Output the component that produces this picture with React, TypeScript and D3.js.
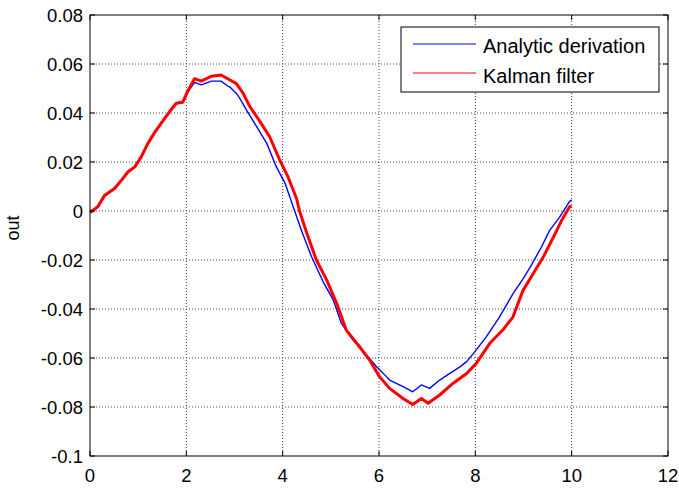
import React from "react";
import * as d3 from "d3";

const xTicks = [0, 2, 4, 6, 8, 10, 12];
const yTicks = [-0.1, -0.08, -0.06, -0.04, -0.02, 0, 0.02, 0.04, 0.06, 0.08];
const yTickLabels = ["-0.1", "-0.08", "-0.06", "-0.04", "-0.02", "0", "0.02", "0.04", "0.06", "0.08"];

const analyticT = [0, 0.17, 0.3, 0.51, 0.65, 0.79, 0.93, 1.06, 1.2, 1.34, 1.52, 1.65, 1.79, 1.93, 2.03, 2.17, 2.31, 2.52, 2.72, 2.86, 2.9, 3.04, 3.11, 3.25, 3.46, 3.67, 3.87, 4.05, 4.25, 4.39, 4.6, 4.84, 5.05, 5.22, 5.46, 5.74, 5.95, 6.15, 6.22, 6.5, 6.7, 6.88, 7.05, 7.26, 7.47, 7.68, 7.82, 8.02, 8.23, 8.5, 8.78, 8.99, 9.16, 9.37, 9.54, 9.75, 9.96, 10];
const analyticY = [0, 0.0015, 0.006, 0.009, 0.0122, 0.0158, 0.0178, 0.0218, 0.0272, 0.0318, 0.0368, 0.0402, 0.0437, 0.0442, 0.0485, 0.0525, 0.0515, 0.053, 0.053, 0.051, 0.0507, 0.048, 0.046, 0.0412, 0.0344, 0.0276, 0.018, 0.0113, 0.0, -0.008, -0.0187, -0.0289, -0.0363, -0.0459, -0.0527, -0.0588, -0.0636, -0.0675, -0.069, -0.0717, -0.0738, -0.071, -0.0724, -0.069, -0.0663, -0.0636, -0.0615, -0.0567, -0.0513, -0.0433, -0.0338, -0.0277, -0.0222, -0.0148, -0.008, -0.0025, 0.004, 0.0045];

const kalmanT = [0, 0.03, 0.17, 0.3, 0.51, 0.65, 0.79, 0.93, 1.06, 1.2, 1.34, 1.52, 1.65, 1.79, 1.93, 2.03, 2.17, 2.31, 2.52, 2.72, 2.86, 3.04, 3.18, 3.32, 3.53, 3.73, 3.94, 4.11, 4.29, 4.35, 4.5, 4.7, 4.91, 5.12, 5.32, 5.6, 5.81, 6.01, 6.22, 6.5, 6.7, 6.88, 7.02, 7.26, 7.54, 7.82, 8.02, 8.3, 8.57, 8.78, 8.99, 9.2, 9.41, 9.62, 9.79, 9.96, 10];
const kalmanY = [0, -0.0003, 0.002, 0.0063, 0.0092, 0.0125, 0.016, 0.018, 0.022, 0.0275, 0.032, 0.037, 0.0405, 0.044, 0.0445, 0.049, 0.054, 0.053, 0.055, 0.0555, 0.054, 0.052, 0.048, 0.0426, 0.0365, 0.0303, 0.0208, 0.014, 0.005, 0.0, -0.009, -0.02, -0.028, -0.0377, -0.0486, -0.0555, -0.061, -0.0676, -0.0724, -0.0765, -0.079, -0.0765, -0.0785, -0.0751, -0.0703, -0.0663, -0.0622, -0.054, -0.0486, -0.0433, -0.0324, -0.0256, -0.0188, -0.0107, -0.0039, 0.0018, 0.002];

const seriesNames = ["Analytic derivation", "Kalman filter"];
const seriesColors = ["#0000ff", "#ff0000"];

const W = 679, H = 488;
const L = 90, R = 668, T = 15, B = 456;

export default function App() {
  const x = d3.scaleLinear().domain([0, 12]).range([L, R]);
  const y = d3.scaleLinear().domain([-0.1, 0.08]).range([B, T]);
  const line = d3.line<[number, number]>().x(d => x(d[0])).y(d => y(d[1]));
  const blue = line(analyticT.map((t, i) => [t, analyticY[i]]) as [number, number][]) || "";
  const red = line(kalmanT.map((t, i) => [t, kalmanY[i]]) as [number, number][]) || "";
  const font = "Arial, 'Liberation Sans', Helvetica, sans-serif";
  const tl = 5;
  return (
    <svg width={W} height={H} style={{ position: "absolute", left: 0, top: 0, background: "#fff" }} fontFamily={font}>
      <rect x={0} y={0} width={W} height={H} fill="#fff" />
      <rect x={L} y={T} width={R - L} height={B - T} fill="#fff" />
      {/* grid */}
      {xTicks.slice(1, -1).map(t => (
        <line key={"gx" + t} x1={x(t)} x2={x(t)} y1={T} y2={B} stroke="#444" strokeDasharray="1,2" strokeWidth={1} />
      ))}
      {yTicks.slice(1, -1).map(t => (
        <line key={"gy" + t} x1={L} x2={R} y1={y(t)} y2={y(t)} stroke="#444" strokeDasharray="1,2" strokeWidth={1} />
      ))}
      {/* data */}
      <path d={blue} fill="none" stroke={seriesColors[0]} strokeWidth={1.4} strokeLinejoin="round" />
      <path d={red} fill="none" stroke={seriesColors[1]} strokeWidth={3} strokeLinejoin="round" />
      {/* box */}
      <rect x={L} y={T} width={R - L} height={B - T} fill="none" stroke="#000" strokeWidth={1} />
      {/* ticks */}
      {xTicks.map(t => (
        <g key={"tx" + t}>
          <line x1={x(t)} x2={x(t)} y1={B} y2={B - tl} stroke="#000" />
          <line x1={x(t)} x2={x(t)} y1={T} y2={T + tl} stroke="#000" />
          <text x={x(t)} y={482} textAnchor="middle" fontSize={18.5}>{t}</text>
        </g>
      ))}
      {yTicks.map((t, i) => (
        <g key={"ty" + t}>
          <line x1={L} x2={L + tl} y1={y(t)} y2={y(t)} stroke="#000" />
          <line x1={R} x2={R - tl} y1={y(t)} y2={y(t)} stroke="#000" />
          <text x={83} y={y(t) + 7} textAnchor="end" fontSize={18.5}>{yTickLabels[i]}</text>
        </g>
      ))}
      <text transform={`translate(19,228) rotate(-90)`} textAnchor="middle" fontSize={18}>out</text>
      {/* legend */}
      <rect x={401} y={27} width={258} height={65} fill="#fff" stroke="#000" strokeWidth={1} />
      {seriesNames.map((n, i) => (
        <g key={n}>
          <line x1={413} x2={476} y1={44 + i * 29} y2={44 + i * 29} stroke={seriesColors[i]} strokeWidth={1} />
          <text x={483} y={53 + i * 30} fontSize={20}>{n}</text>
        </g>
      ))}
    </svg>
  );
}
